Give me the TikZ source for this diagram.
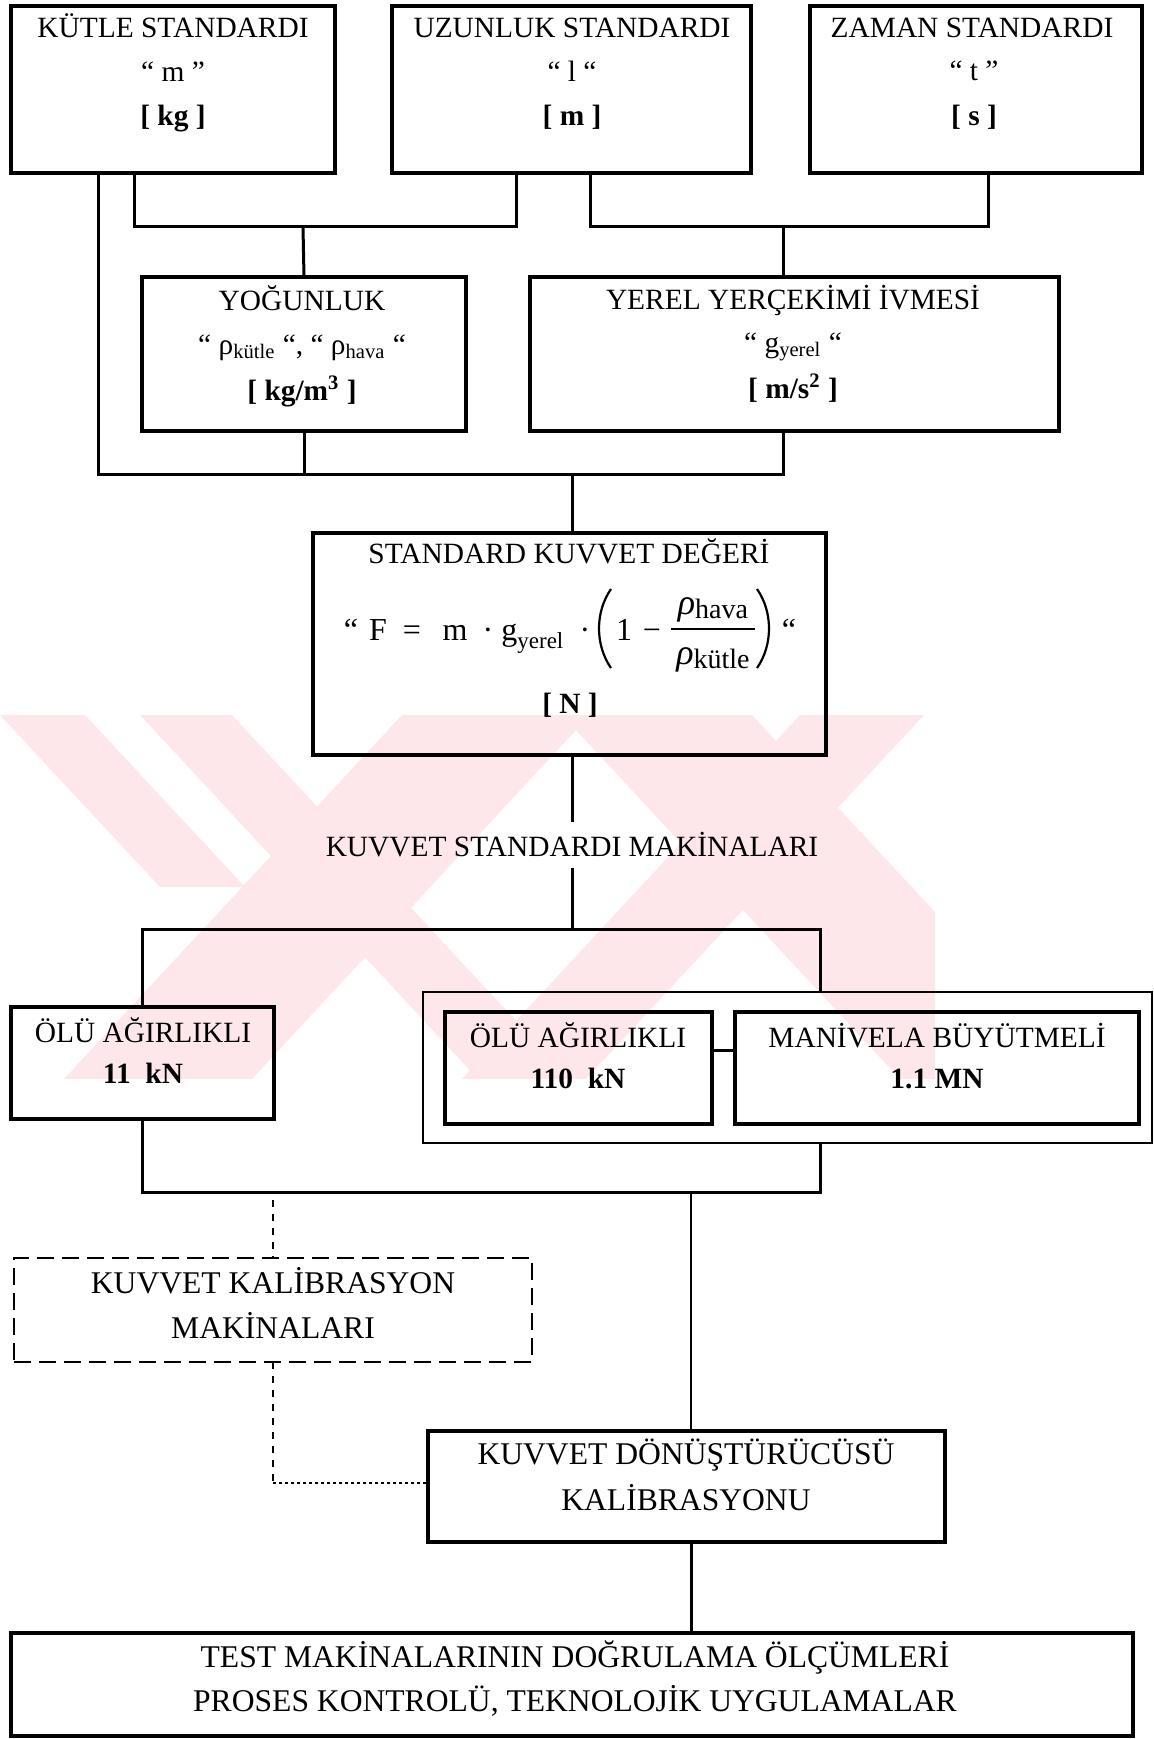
\documentclass[tikz,border=0pt]{standalone}
\usepackage{fontspec}
\setmainfont{Liberation Serif}
\definecolor{wm}{RGB}{253,231,235}
\tikzset{
  box/.style={draw, line width=1.6pt, inner sep=0pt, outer sep=0pt},
  thinbox/.style={draw, line width=0.65pt, inner sep=0pt, outer sep=0pt},
  dbox/.style={draw, line width=1pt, dash pattern=on 8.5pt off 4pt, inner sep=0pt, outer sep=0pt},
  conn/.style={line width=1.5pt},
  connthin/.style={line width=1.1pt},
  dashconn/.style={line width=1.2pt, dash pattern=on 3.5pt off 3.5pt},
  dotconn/.style={line width=1.2pt, dash pattern=on 1.5pt off 1.5pt},
  txt/.style={anchor=base, inner sep=0pt, font=\fontsize{14.7}{17}\selectfont},
  btxt/.style={txt, font=\fontsize{14.7}{17}\selectfont\bfseries},
  ltxt/.style={anchor=base, inner sep=0pt, font=\fontsize{15.8}{18}\selectfont},
  ftxt/.style={anchor=base, inner sep=0pt, font=\fontsize{16}{19}\selectfont},
  paren/.style={line width=1.1pt},
}
\begin{document}
\begin{tikzpicture}[x=0.5pt,y=-0.5pt]
\useasboundingbox (0,0) rectangle (1153,1739);
% watermark (two striped crosses)
\begin{scope}
\clip (0,715) rectangle (935,1078);
\fill[wm] (402,715) -- (590,715) -- (252,1079) -- (64,1079) -- cycle;
\fill[wm] (140,715) -- (232,715) -- (570,1079) -- (478,1079) -- cycle;
\fill[wm] (0,715) -- (85,715) -- (245,887) -- (160,887) -- cycle;
\fill[wm] (562,715) -- (752,715) -- (1090,1079) -- (900,1079) -- cycle;
\fill[wm] (800,715) -- (924,715) -- (586,1079) -- (462,1079) -- cycle;
\end{scope}

% boxes
\node[box, minimum width=162pt, minimum height=83.5pt] (kutle) at (173,89.5) {};
\node[box, minimum width=179.5pt, minimum height=83.5pt] (uzun) at (571.5,89.5) {};
\node[box, minimum width=166pt, minimum height=83.5pt] (zaman) at (976,89.5) {};
\node[box, minimum width=162pt, minimum height=77pt] (yog) at (304,354) {};
\node[box, minimum width=264.5pt, minimum height=77pt] (yerel) at (794.5,354) {};
\node[box, minimum width=256.5pt, minimum height=111pt] (std) at (569.5,644) {};
\node[box, minimum width=131.5pt, minimum height=56pt] (olu1) at (142.5,1063) {};
\node[thinbox, minimum width=364.5pt, minimum height=75.5pt] (outer) at (787.5,1067.5) {};
\node[box, minimum width=133.5pt, minimum height=56pt] (olu2) at (578.5,1068) {};
\node[box, minimum width=202pt, minimum height=56pt] (mani) at (937,1068) {};
\node[dbox, minimum width=259pt, minimum height=52pt] (kkal) at (273,1310) {};
\node[box, minimum width=258.5pt, minimum height=55.5pt] (kdon) at (686.5,1486.5) {};
\node[box, minimum width=561pt, minimum height=51.5pt] (test) at (572,1684.5) {};

% texts
\node[txt] (t1a) at (173,38) {KÜTLE STANDARDI};
\node[txt] (t1b) at (173,82) {“ m ”};
\node[btxt] (t1c) at (173,126) {[ kg ]};
\node[txt] (t2a) at (572,38) {UZUNLUK STANDARDI};
\node[txt] (t2b) at (572,82) {“ l “};
\node[btxt] (t2c) at (572,126) {[ m ]};
\node[txt] (t3a) at (972,38) {ZAMAN STANDARDI};
\node[txt] (t3b) at (974,81) {“ t ”};
\node[btxt] (t3c) at (974,126) {[ s ]};
\node[txt] (t4a) at (302,310) {YOĞUNLUK};
\node[txt] (t4b) at (302,354) {“ ρ\textsubscript{kütle} “, “ ρ\textsubscript{hava} “};
\node[btxt] (t4c) at (302,400) {[ kg/m\textsuperscript{3} ]};
\node[txt] (t5a) at (793,309) {YEREL YERÇEKİMİ İVMESİ};
\node[txt] (t5b) at (793,352) {“ g\textsubscript{yerel} “};
\node[btxt] (t5c) at (793,398) {[ m/s\textsuperscript{2} ]};
\node[txt] (t6a) at (569,563) {STANDARD KUVVET DEĞERİ};
% formula
\node[ftxt] (fq1) at (351,640) {“};
\node[ftxt] (fF) at (378,640) {F};
\node[ftxt] (feq) at (412,640) {=};
\node[ftxt] (fm) at (455,640) {m};
\node[ftxt] (fd1) at (488,640) {·};
\node[ftxt, anchor=base west] (fg) at (501,640) {g\raisebox{-4pt}{\fontsize{11.5}{12}\selectfont yerel}};
\node[ftxt] (fd2) at (585,640) {·};
\node[ftxt] (fone) at (624,640) {1};
\node[ftxt] (fmin) at (652,640) {−};
\node[ftxt] (fnum) at (713,614) {\fontsize{18}{20}\selectfont\itshape ρ\upshape\raisebox{-2pt}{\fontsize{14}{16}\selectfont hava}};
\node[ftxt] (fden) at (713,664) {\fontsize{18}{20}\selectfont\itshape ρ\upshape\raisebox{-2pt}{\fontsize{14}{16}\selectfont kütle}};
\node[ftxt] (fq2) at (789,640) {“};
\draw[line width=0.8pt] (671,629) -- (755,629);
\draw[paren] (611,589) .. controls (595,612) and (595,645) .. (611,668);
\draw[paren] (757,589) .. controls (773,612) and (773,645) .. (757,668);
\node[btxt] (t6c) at (570,713) {[ N ]};
\node[txt, anchor=center, minimum height=22.5pt] (ksm) at (572,845) {KUVVET STANDARDI MAKİNALARI};
\node[txt] (t7a) at (143,1042) {ÖLÜ AĞIRLIKLI};
\node[btxt] (t7b) at (143,1083) {11\ \ kN};
\node[txt] (t8a) at (578,1047) {ÖLÜ AĞIRLIKLI};
\node[btxt] (t8b) at (578,1088) {110\ \ kN};
\node[txt] (t9a) at (937,1047) {MANİVELA BÜYÜTMELİ};
\node[btxt] (t9b) at (937,1088) {1.1 MN};
\node[ltxt] (t10a) at (273,1293) {KUVVET KALİBRASYON};
\node[ltxt] (t10b) at (273,1338) {MAKİNALARI};
\node[ltxt] (t11a) at (686,1464) {KUVVET DÖNÜŞTÜRÜCÜSÜ};
\node[ltxt] (t11b) at (686,1510) {KALİBRASYONU};
\node[ltxt] (t12a) at (575,1667) {TEST MAKİNALARININ DOĞRULAMA ÖLÇÜMLERİ};
\node[ltxt] (t12b) at (575,1711) {PROSES KONTROLÜ, TEKNOLOJİK UYGULAMALAR};

% junction coordinates
\coordinate (a1) at (134,227);
\coordinate (a2) at (516,227);
\coordinate (a3) at (303,227);
\coordinate (b1) at (590,227);
\coordinate (b2) at (988,227);
\coordinate (b3) at (783,227);
\coordinate (l1) at (98,474);
\coordinate (l2) at (783,474);
\coordinate (c1) at (142.5,929);
\coordinate (c2) at (820,929);
\coordinate (d1) at (142.5,1192);
\coordinate (d2) at (820,1192);
\coordinate (d3) at (691,1192);
\coordinate (e1) at (273,1200);
\coordinate (e2) at (273,1483);
\coordinate (f1) at (712,1050);

% connectors
\draw[conn] (kutle.south -| a1) -- (a1) -- (a2) -- (uzun.south -| a2);
\draw[conn] (a3) -- (yog.north);
\draw[conn] (uzun.south -| b1) -- (b1) -- (b2) -- (zaman.south -| b2);
\draw[conn] (b3) -- (b3 |- yerel.north);
\draw[conn] (kutle.south -| l1) -- (l1) -- (l2) -- (yerel.south -| l2);
\draw[conn] (yog.south) -- (yog.south |- l1);
\draw[conn] (ksm.north |- std.north) -- (ksm.north |- l1);
\draw[conn] (ksm.north |- std.south) -- (ksm.north);
\draw[conn] (ksm.south) -- (ksm.south |- c1);
\draw[conn] (olu1.north) -- (c1) -- (c2) -- (outer.north -| c2);
\draw[conn] (f1) -- (f1 -| mani.west);
\draw[conn] (olu1.south) -- (d1) -- (d2) -- (outer.south -| d2);
\draw[connthin] (d3) -- (kdon.north -| d3);
\draw[dashconn] (e1) -- (kkal.north);
\draw[dashconn] (kkal.south) -- (e2);
\draw[dotconn] (e2) -- (kdon.west |- e2);
\draw[conn] (kdon.south -| d3) -- (test.north -| d3);
\end{tikzpicture}
\end{document}
